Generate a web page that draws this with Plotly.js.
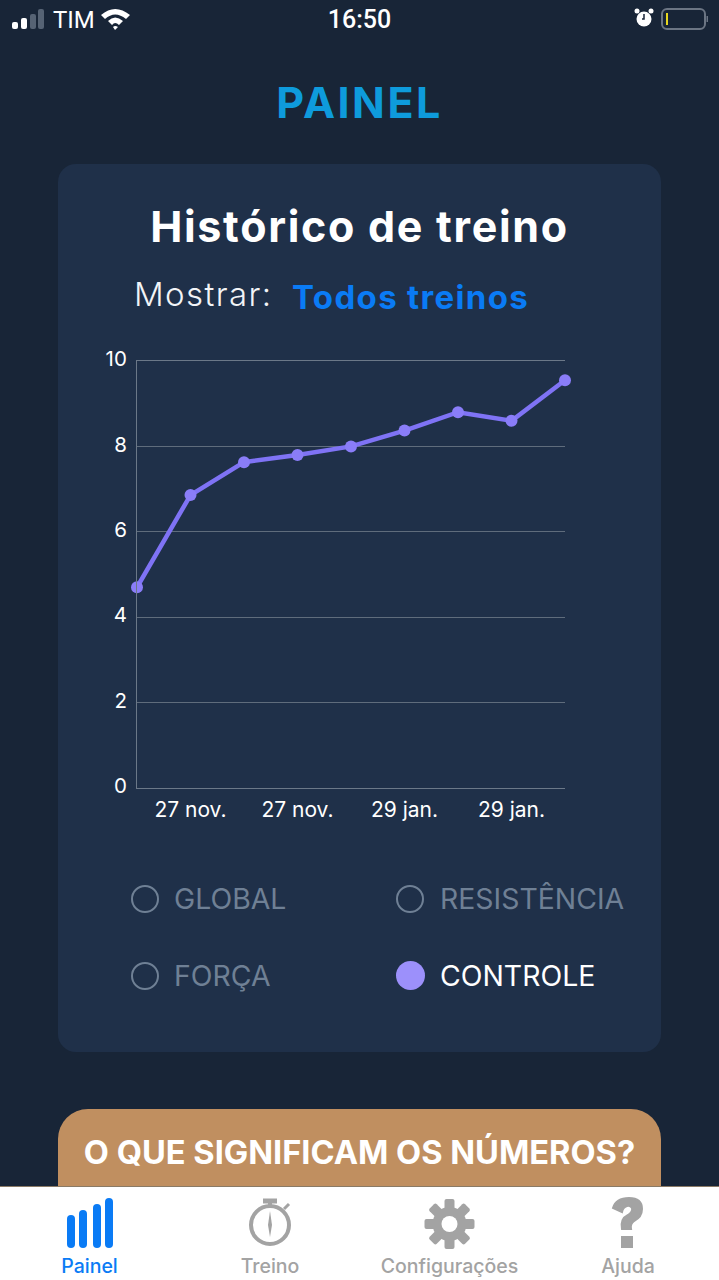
<!DOCTYPE html>
<html><head><meta charset="utf-8">
<script src="https://cdn.plot.ly/plotly-3.0.1.min.js"></script>
<style>
html,body{margin:0;padding:0;background:#182537;width:719px;height:1280px;overflow:hidden;font-family:Inter,sans-serif}
.a{position:absolute;white-space:nowrap}
#card{left:58px;top:164px;width:603px;height:888px;background:#1f3049;border-radius:18px}
#chart{left:0;top:0;width:719px;height:1280px}
#chart .gtitle{letter-spacing:1.7px}
.r{width:28px;height:28px;border:2px solid #6f8095;border-radius:50%;box-sizing:border-box}
.o{font-size:28.4px;color:#6f8095;line-height:34px}
#btn{left:58px;top:1109px;width:603px;height:110px;background:#c08f60;border-radius:30px}
#tab{left:0;top:1186px;width:719px;height:94px;background:#fff;border-top:1px solid #8a7a66;box-sizing:border-box}
.t{font-size:19.5px;color:#a3a3a3;transform:translateX(-50%);font-family:Inter,sans-serif;font-weight:500;top:1255px;line-height:22px}
</style></head><body>
<div id="card" class="a"></div>
<div class="a" style="left:0;width:719px;text-align:center;top:75px;font:700 43px/54px Inter,sans-serif;color:#0e9bdc;letter-spacing:2.5px">PAINEL</div>
<div class="a" style="left:53px;top:7px;font:400 24px/26px Roboto,sans-serif;color:#fff">TIM</div>
<div class="a" style="left:0;width:719px;text-align:center;top:6px;font:500 25px/28px Roboto,sans-serif;color:#fff">16:50</div>
<svg class="a" style="left:0;top:0" width="719" height="40">
<rect x="12" y="22" width="6" height="7" rx="2" fill="#fff"/><rect x="21" y="18" width="6" height="11" rx="2" fill="#fff"/>
<rect x="30" y="14" width="6" height="15" rx="2" fill="#566374"/><rect x="38" y="9" width="6" height="20" rx="2" fill="#566374"/>
<path d="M101 15 Q115 3 130 15 L126 19 Q115 10 105 19Z M108 21 Q115 14 123 21 L119 25 Q115 21 112 25Z M113 27 Q115 25 118 27 L115 30Z" fill="#fff"/>
<circle cx="644" cy="19" r="7.5" fill="#fff"/><circle cx="637" cy="11" r="2.5" fill="#fff"/><circle cx="651" cy="11" r="2.5" fill="#fff"/><path d="M644 14v5h-2" stroke="#182537" stroke-width="1.5" fill="none"/>
<rect x="662" y="9" width="43" height="20" rx="5" fill="none" stroke="#6b7583" stroke-width="2"/><rect x="666" y="13" width="2" height="12" fill="#e8d820"/><rect x="706.5" y="16" width="1.5" height="6" fill="#6b7583"/>
</svg>
<div class="a" style="left:134px;top:274px;font:300 33px/40px Inter,sans-serif;color:#f2f4f7;letter-spacing:1.4px">Mostrar:</div>
<div class="a" style="left:292px;top:277px;font:700 33px/40px Inter,sans-serif;color:#0a7bf5;letter-spacing:1.35px">Todos treinos</div>
<div id="chart" class="a"></div>
<div class="a r" style="left:131px;top:885px"></div><div class="a o" style="left:174px;top:882px">GLOBAL</div>
<div class="a r" style="left:396px;top:885px"></div><div class="a o" style="left:440px;top:882px">RESISTÊNCIA</div>
<div class="a r" style="left:131px;top:962px"></div><div class="a o" style="left:174px;top:959px">FORÇA</div>
<div class="a r" style="left:396px;top:961px;width:29px;height:29px;background:#9c90fb;border:none"></div><div class="a o" style="left:440px;top:959px;color:#fff">CONTROLE</div>
<div id="btn" class="a"></div>
<div class="a" style="left:58px;width:603px;text-align:center;top:1132px;font:700 32.6px/40px Inter,sans-serif;color:#fff">O QUE SIGNIFICAM OS NÚMEROS?</div>
<div id="tab" class="a"></div>
<svg class="a" style="left:0;top:1186px" width="719" height="94">
<g fill="#0a7bf5"><rect x="67" y="29" width="8" height="33" rx="4"/><rect x="79" y="24" width="8" height="38" rx="4"/><rect x="93" y="18" width="8" height="44" rx="4"/><rect x="105" y="12" width="8" height="50" rx="4"/></g>
<g fill="none" stroke="#a3a3a3"><circle cx="270" cy="39" r="19" stroke-width="4"/><path d="M263 15h14" stroke-width="5"/><path d="M270 16v5" stroke-width="4"/><path d="M284 23l5-5" stroke-width="3"/></g>
<path d="M270 25l2 14-2 12-2-12z" fill="#a3a3a3"/>
<g transform="translate(449.5,38)"><circle r="17" fill="#a3a3a3"/><g fill="#a3a3a3"><rect x="-5" y="-25" width="10" height="50" rx="2"/><rect x="-5" y="-25" width="10" height="50" rx="2" transform="rotate(45)"/><rect x="-5" y="-25" width="10" height="50" rx="2" transform="rotate(90)"/><rect x="-5" y="-25" width="10" height="50" rx="2" transform="rotate(135)"/></g><circle r="8" fill="#fff"/></g>
<path d="M613 22 Q616 12 629 12 Q642 12 642 23 Q642 31 634 35 Q630 38 631 43 L622 43 Q620 33 628 29 Q633 26 632 22 Q630 19 627 20 Q623 21 622 26Z" fill="#a3a3a3" stroke="#a3a3a3" stroke-width="2"/><rect x="621" y="50" width="12" height="12" fill="#a3a3a3"/>
</svg>
<div class="a t" style="left:89.5px;color:#0a7bf5">Painel</div>
<div class="a t" style="left:270px">Treino</div>
<div class="a t" style="left:449.5px">Configurações</div>
<div class="a t" style="left:628px">Ajuda</div>
<script>
var sessions = [0,1,2,3,4,5,6,7,8];
var controle = [4.7,6.86,7.63,7.8,8.0,8.37,8.8,8.6,9.55];
var xTickVals = [1,3,5,7];
var xTickText = ['27 nov.','27 nov.','29 jan.','29 jan.'];
var yTickVals = [0,2,4,6,8,10];
var title = 'Histórico de treino';
var trace = {x:sessions,y:controle,type:'scatter',mode:'lines+markers',cliponaxis:false,
  line:{color:'#7f73f5',width:4.5},marker:{color:'#8a7df8',size:12}};
var layout = {width:719,height:1280,paper_bgcolor:'rgba(0,0,0,0)',plot_bgcolor:'rgba(0,0,0,0)',
  showlegend:false,margin:{l:136.5,r:153.5,t:361,b:492,pad:0},
  font:{family:'Inter, sans-serif',color:'#fff'},
  title:{text:title,x:0.5,xref:'container',xanchor:'center',y:1-227/1280,yref:'container',yanchor:'middle',
    font:{family:'Inter, sans-serif',size:43,weight:700,color:'#fff'}},
  xaxis:{range:[0,8],tickvals:xTickVals,ticktext:xTickText,showgrid:false,zeroline:false,showline:true,mirror:true,linecolor:'#6b7888',linewidth:1,ticks:'outside',ticklen:3,tickcolor:'rgba(0,0,0,0)',tickfont:{size:21,color:'#fff'},fixedrange:true},
  yaxis:{range:[0,10],tickvals:yTickVals,showgrid:true,gridcolor:'#5f6c7c',gridwidth:1,zeroline:false,showline:true,linecolor:'#6b7888',linewidth:1,ticks:'outside',ticklen:5,tickcolor:'rgba(0,0,0,0)',tickfont:{size:20.5,color:'#fff'},ticklabelshift:-2,fixedrange:true}
};
Plotly.newPlot('chart',[trace],layout,{displayModeBar:false,staticPlot:true});
</script>
</body></html>
